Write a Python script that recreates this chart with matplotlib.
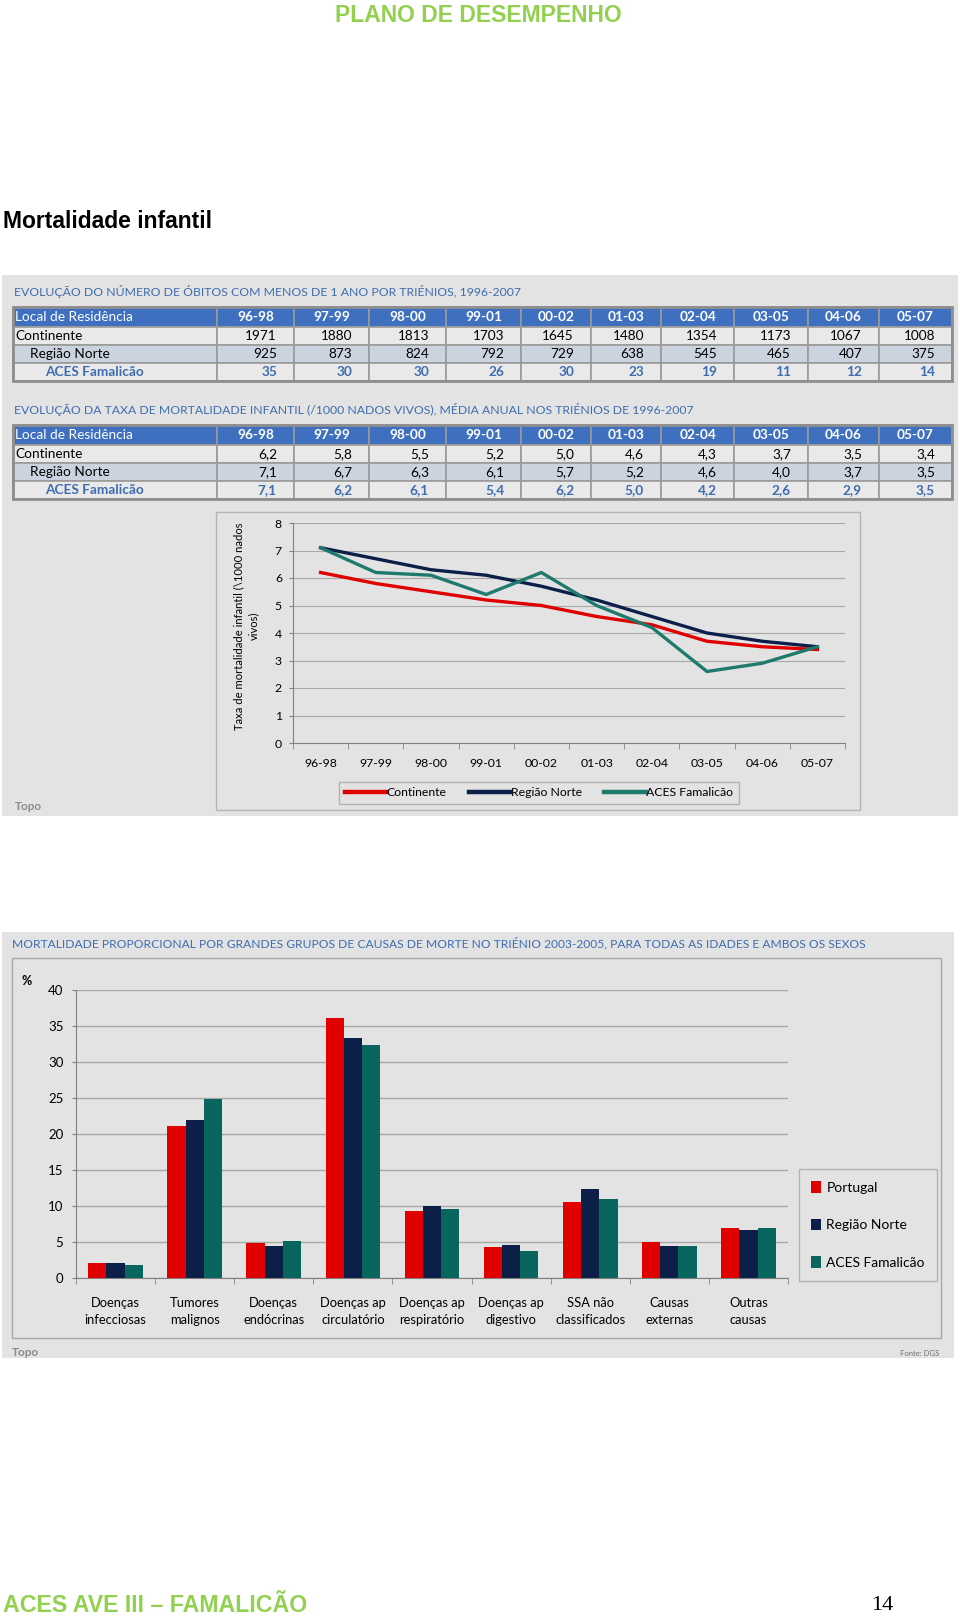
import matplotlib
matplotlib.use("Agg")
import matplotlib.pyplot as plt
from matplotlib.patches import Rectangle

# Dados das tabelas (triénios 1996-2007)
trienios = ["96-98", "97-99", "98-00", "99-01", "00-02", "01-03", "02-04", "03-05", "04-06", "05-07"]
locais = ["Continente", "Região Norte", "ACES Famalicão"]

obitos_continente = [1971, 1880, 1813, 1703, 1645, 1480, 1354, 1173, 1067, 1008]
obitos_norte = [925, 873, 824, 792, 729, 638, 545, 465, 407, 375]
obitos_aces = [35, 30, 30, 26, 30, 23, 19, 11, 12, 14]

taxa_continente = [6.2, 5.8, 5.5, 5.2, 5.0, 4.6, 4.3, 3.7, 3.5, 3.4]
taxa_norte = [7.1, 6.7, 6.3, 6.1, 5.7, 5.2, 4.6, 4.0, 3.7, 3.5]
taxa_aces = [7.1, 6.2, 6.1, 5.4, 6.2, 5.0, 4.2, 2.6, 2.9, 3.5]

# Mortalidade proporcional 2003-2005 (%)
causas = ["Doenças\ninfecciosas", "Tumores\nmalignos", "Doenças\nendócrinas", "Doenças ap\ncirculatório",
          "Doenças ap\nrespiratório", "Doenças ap\ndigestivo", "SSA não\nclassificados", "Causas\nexternas",
          "Outras\ncausas"]
prop_portugal = [2.1, 21.1, 4.8, 36.1, 9.3, 4.3, 10.5, 5.0, 6.9]
prop_norte = [2.1, 22.0, 4.5, 33.3, 10.0, 4.6, 12.4, 4.4, 6.7]
prop_aces = [1.8, 24.9, 5.2, 32.3, 9.6, 3.8, 11.0, 4.4, 7.0]

W, H = 960, 1622
verde = "#92D050"
cinza_painel = "#E3E3E3"
azul_titulo = "#3E6DB0"
azul_cab = "#3F70BF"
vermelho = "#E00000"
marinho = "#0C1F48"
teal = "#08665F"
fonte = "Lato"

fig = plt.figure(figsize=(W / 100, H / 100), dpi=100)
fig.patch.set_facecolor("white")

# eixo "página" em pixeis (origem no canto superior esquerdo)
page = fig.add_axes([0, 0, 1, 1])
page.set_xlim(0, W)
page.set_ylim(H, 0)
page.axis("off")


def fax(x, y, w, h):
    return fig.add_axes([x / W, 1 - (y + h) / H, w / W, h / H])


# Cabeçalho e rodapé
page.text(478, 16, "PLANO DE DESEMPENHO", color=verde, fontsize=16.5, family="Liberation Sans",
          fontweight="bold", ha="center", va="center")
page.text(3, 221, "Mortalidade infantil", color="black", fontsize=16.5, family="Liberation Sans",
          fontweight="bold", ha="left", va="center")
page.text(3, 1606, "ACES AVE III – FAMALICÃO", color=verde, fontsize=16.7, family="Liberation Sans",
          fontweight="bold", ha="left", va="center")
page.text(871, 1606, "14", color="black", fontsize=16, family="Liberation Serif", ha="left", va="center")

# Painéis cinzentos
page.add_patch(Rectangle((2, 275), 956, 541, facecolor=cinza_painel, edgecolor="none"))
page.add_patch(Rectangle((2, 932), 952, 426, facecolor=cinza_painel, edgecolor="none"))

# Tabelas
col_x = [13, 217, 294, 369, 446, 521, 591, 661, 734, 808, 879, 952]
cor_linhas = ["#E9E9E9", "#CBD3DE", "#E9E9E9"]


def tabela(topo, titulo, linhas, fmt):
    page.text(14, topo - 16, titulo, color=azul_titulo, fontsize=8.8, family=fonte,
              ha="left", va="center")
    hc = 20
    hr = 18
    # cabeçalho
    for i in range(len(col_x) - 1):
        page.add_patch(Rectangle((col_x[i], topo), col_x[i + 1] - col_x[i], hc,
                                 facecolor=azul_cab, edgecolor="#9A9A9A", lw=1.2))
    page.text(col_x[0] + 2, topo + hc / 2, "Local de Residência", color="white", fontsize=9.8,
              family=fonte, ha="left", va="center")
    for i, t in enumerate(trienios):
        page.text((col_x[i + 1] + col_x[i + 2]) / 2, topo + hc / 2, t, color="white", fontsize=9.8,
                  family=fonte, fontweight="bold", ha="center", va="center")
    for r, (nome, vals) in enumerate(zip(locais, linhas)):
        y0 = topo + hc + r * hr
        for i in range(len(col_x) - 1):
            page.add_patch(Rectangle((col_x[i], y0), col_x[i + 1] - col_x[i], hr,
                                     facecolor=cor_linhas[r], edgecolor="#9A9A9A", lw=1.2))
        cor = azul_titulo if r == 2 else "black"
        peso = "bold" if r == 2 else "normal"
        indent = [2, 17, 32][r]
        page.text(col_x[0] + indent, y0 + hr / 2, nome, color=cor, fontsize=9.8, family=fonte,
                  fontweight=peso, ha="left", va="center")
        for i, v in enumerate(vals):
            page.text(col_x[i + 2] - 17, y0 + hr / 2, fmt(v), color=cor, fontsize=9.8, family=fonte,
                      fontweight=peso, ha="right", va="center")
    page.add_patch(Rectangle((col_x[0], topo), col_x[-1] - col_x[0], hc + 3 * hr,
                             facecolor="none", edgecolor="#8E8E8E", lw=2))


tabela(307, "EVOLUÇÃO DO NÚMERO DE ÓBITOS COM MENOS DE 1 ANO POR TRIÉNIOS, 1996-2007",
       [obitos_continente, obitos_norte, obitos_aces], lambda v: str(v))
tabela(425, "EVOLUÇÃO DA TAXA DE MORTALIDADE INFANTIL (/1000 NADOS VIVOS), MÉDIA ANUAL NOS TRIÉNIOS DE 1996-2007",
       [taxa_continente, taxa_norte, taxa_aces], lambda v: f"{v:.1f}".replace(".", ","))

# Gráfico de linhas
page.add_patch(Rectangle((216, 512), 644, 298, facecolor=cinza_painel, edgecolor="#B5B5B5", lw=1))
ax = fax(293, 523, 552, 220)
ax.set_facecolor("none")
xs = list(range(len(trienios)))
ax.plot(xs, taxa_continente, color=vermelho, lw=2.4, label="Continente")
ax.plot(xs, taxa_norte, color=marinho, lw=2.4, label="Região Norte")
ax.plot(xs, taxa_aces, color="#1E7A6C", lw=2.4, label="ACES Famalicão")
ax.set_xlim(-0.5, 9.5)
ax.set_ylim(0, 8)
ax.set_yticks(range(0, 9))
ax.set_xticks(xs)
ax.set_xticklabels(trienios)
ax.set_xticks([i - 0.5 for i in range(11)], minor=True)
ax.tick_params(axis="x", which="major", length=0, pad=11, labelsize=8.8)
ax.tick_params(axis="x", which="minor", length=4, color="#808080", direction="out")
ax.tick_params(axis="y", length=3, color="#808080", pad=5, labelsize=8.8)
for lab in ax.get_xticklabels() + ax.get_yticklabels():
    lab.set_family(fonte)
ax.yaxis.grid(True, color="#A8A8A8", lw=0.8)
ax.set_axisbelow(True)
for s in ["top", "right"]:
    ax.spines[s].set_visible(False)
ax.spines["left"].set_color("#808080")
ax.spines["bottom"].set_color("#808080")
page.text(246, 626, "Taxa de mortalidade infantil (\\1000 nados\nvivos)", rotation=90, fontsize=8.1,
          family=fonte, ha="center", va="center", multialignment="center", linespacing=1.45)
leg = ax.legend(loc="center", bbox_to_anchor=(539 / W, 1 - 793 / H), bbox_transform=fig.transFigure,
                ncol=3, frameon=True, fancybox=False, handlelength=3.4, handletextpad=0.05,
                columnspacing=1.8, borderpad=0.45, prop={"family": fonte, "size": 8.8})
leg.get_frame().set_facecolor(cinza_painel)
leg.get_frame().set_edgecolor("#A8A8A8")
leg.get_frame().set_linewidth(1)
for h in leg.get_lines():
    h.set_linewidth(3.2)
page.text(15, 807, "Topo", color="#8C8C8C", fontsize=8.5, family=fonte, fontweight="bold",
          ha="left", va="center")

# Gráfico de barras
page.text(12, 943, "MORTALIDADE PROPORCIONAL POR GRANDES GRUPOS DE CAUSAS DE MORTE NO TRIÉNIO 2003-2005, "
          "PARA TODAS AS IDADES E AMBOS OS SEXOS", color=azul_titulo, fontsize=8.65, family=fonte,
          ha="left", va="center")
page.add_patch(Rectangle((12, 958), 929, 380, facecolor=cinza_painel, edgecolor="#A8A8A8", lw=1))
bx = fax(76, 990, 712, 288)
bx.set_facecolor("none")
n = len(causas)
pos = list(range(n))
w = 0.23
bx.bar([p - w for p in pos], prop_portugal, w, color=vermelho, label="Portugal", zorder=3)
bx.bar(pos, prop_norte, w, color=marinho, label="Região Norte", zorder=3)
bx.bar([p + w for p in pos], prop_aces, w, color=teal, label="ACES Famalicão", zorder=3)
bx.set_xlim(-0.5, n - 0.5)
bx.set_ylim(0, 40)
bx.set_yticks(range(0, 45, 5))
bx.set_xticks(pos)
bx.set_xticklabels(causas, linespacing=1.45)
bx.set_xticks([i - 0.5 for i in range(n + 1)], minor=True)
bx.tick_params(axis="x", which="major", length=0, pad=14, labelsize=9.3)
bx.tick_params(axis="x", which="minor", length=4, color="#808080", direction="out")
bx.tick_params(axis="y", length=3, color="#808080", pad=6, labelsize=9.5)
for lab in bx.get_xticklabels() + bx.get_yticklabels():
    lab.set_family(fonte)
bx.yaxis.grid(True, color="#A8A8A8", lw=1)
bx.set_axisbelow(True)
for s in ["top", "right"]:
    bx.spines[s].set_visible(False)
bx.spines["left"].set_color("#808080")
bx.spines["bottom"].set_color("#808080")
page.text(22, 981, "%", fontsize=9, family=fonte, fontweight="bold", ha="left", va="center")
leg2 = bx.legend(loc="center", bbox_to_anchor=(868 / W, 1 - 1225 / H), bbox_transform=fig.transFigure,
                 frameon=True, fancybox=False, handlelength=0.7, handleheight=0.9, handletextpad=0.4,
                 labelspacing=1.8, borderpad=0.9, prop={"family": fonte, "size": 10})
leg2.get_frame().set_facecolor(cinza_painel)
leg2.get_frame().set_edgecolor("#A8A8A8")
leg2.get_frame().set_linewidth(1)
page.text(12, 1352, "Topo", color="#8C8C8C", fontsize=8.5, family=fonte, fontweight="bold",
          ha="left", va="center")
page.text(939, 1354, "Fonte: DGS", color="#707070", fontsize=5.5, family=fonte, ha="right", va="center")

fig.savefig("out.png", dpi=100)
